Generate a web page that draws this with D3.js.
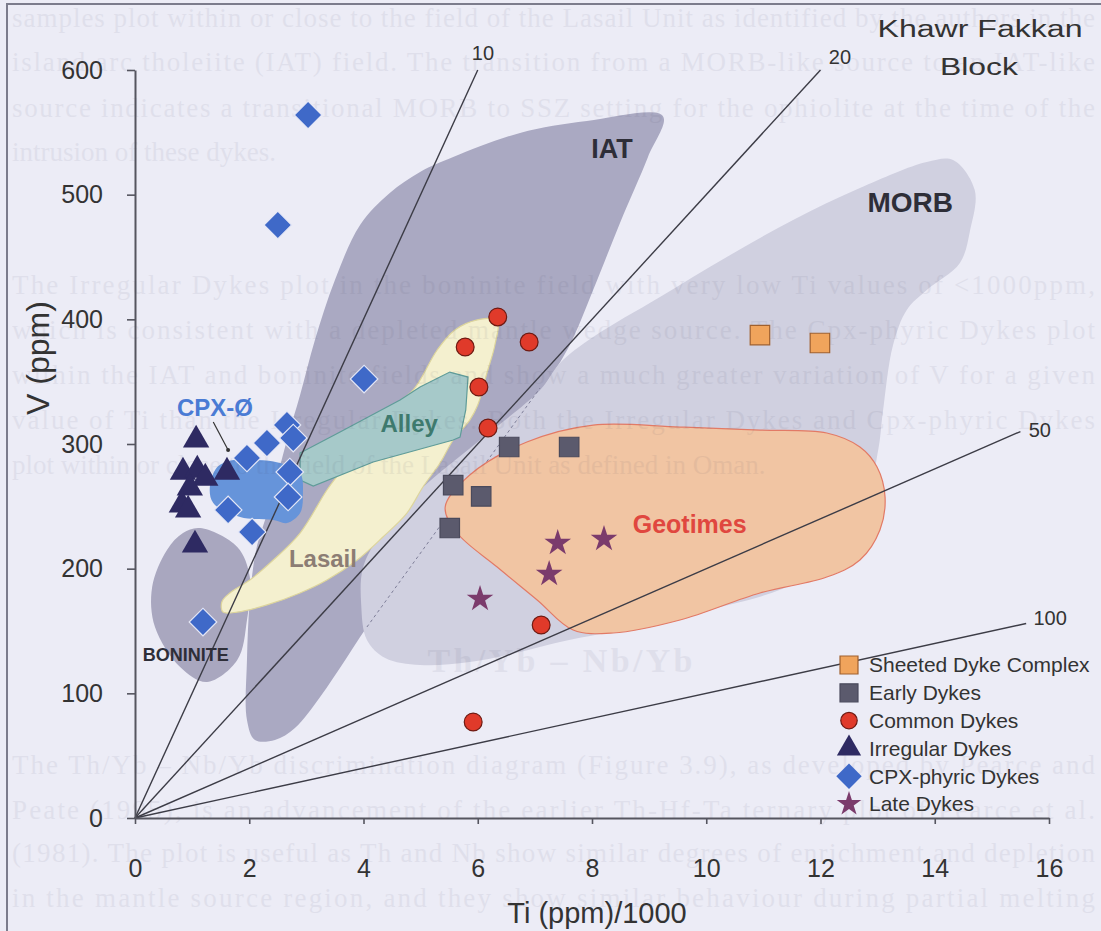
<!DOCTYPE html>
<html>
<head>
<meta charset="utf-8">
<script src="https://cdn.jsdelivr.net/npm/d3@7"></script>
<style>
  html, body { margin: 0; padding: 0; background: #ececf6; }
  svg { display: block; font-family: "Liberation Sans", Arial, sans-serif; }
</style>
</head>
<body>
<div id="chart"></div>
<script>
// Ti-V diagram (Shervais 1982), Khawr Fakkan Block dykes

const xTicks = [0, 2, 4, 6, 8, 10, 12, 14, 16];
const yTicks = [0, 100, 200, 300, 400, 500, 600];

// Ti/V reference ratios and the Ti/1000 value where each line stops
const ratios = [10, 20, 50, 100];
const ratioEnds = [6, 12, 15.5, 15.6];

// fields, as [Ti/1000, V ppm]
const iatField = [
  [4.46, 501.3], [4.99, 518.2], [5.57, 530.2], [6.74, 549.5], [7.91, 559.1], [9.24, 563.1],
  [8.98, 530.2], [8.49, 477.3], [8.02, 423.5], [7.61, 379.4], [7.18, 347.3], [4.06, 153.2],
  [3.68, 126.7], [3.24, 97.1], [2.80, 72.2], [2.45, 62.6], [2.10, 62.6], [1.96, 78.6],
  [1.96, 126.7], [2.01, 174.9], [2.12, 215.0], [2.36, 251.1], [2.66, 303.2], [2.89, 339.3],
  [3.15, 383.4], [3.50, 431.5], [3.94, 475.7]
];
const iatHiddenEdge = [[4.06, 153.2], [7.09, 344.9]];
const boniniteField = [
  [1.14, 232.6], [1.79, 217.4], [2.01, 193.3], [1.96, 158.8], [1.79, 126.7], [1.26, 109.1],
  [0.79, 121.1], [0.35, 153.2], [0.30, 185.3], [0.56, 215.0], [0.84, 228.6]
];
const morbField = [
  [14.32, 527.8], [14.70, 503.7], [14.62, 471.7], [14.44, 445.2], [13.86, 423.5], [13.51, 407.5],
  [13.27, 379.4], [13.09, 324.9], [13.01, 295.2], [12.69, 239.0], [11.64, 190.9], [9.89, 165.2],
  [8.49, 150.8], [7.44, 141.2], [6.74, 133.2], [5.86, 125.1], [4.99, 122.7], [4.38, 128.3],
  [4.06, 142.8], [3.96, 170.9], [3.99, 200.5], [4.29, 227.0], [4.99, 263.1], [6.04, 303.2],
  [7.09, 343.3], [7.44, 365.0], [8.02, 385.8], [9.19, 417.9], [10.36, 450.0], [11.52, 479.7],
  [12.69, 505.3], [13.86, 526.2]
];
const lasailField = [
  [1.52, 173.3], [1.66, 180.5], [2.01, 190.9], [2.42, 206.9], [2.89, 228.6], [3.36, 263.1],
  [3.68, 283.2], [4.03, 309.6], [4.46, 328.9], [4.87, 343.3], [5.29, 375.4], [5.60, 391.4],
  [5.99, 399.5], [6.34, 399.5], [6.30, 379.4], [6.16, 356.9], [6.00, 331.3], [5.86, 319.2],
  [5.57, 303.2], [5.34, 284.8], [5.04, 265.5], [4.76, 244.6], [4.34, 225.4], [3.89, 206.9],
  [3.36, 190.9], [2.89, 180.5], [2.31, 170.9], [1.79, 165.2], [1.54, 165.2]
];
const alleyField = [
  [2.89, 292.8], [3.59, 309.6], [4.64, 335.3], [4.99, 345.7], [5.51, 357.7], [5.83, 353.7],
  [5.79, 327.3], [5.69, 305.6], [5.57, 303.2], [4.17, 285.6], [3.12, 266.3], [2.89, 271.1]
];
const cpxField = [
  [1.44, 281.5], [1.31, 265.5], [1.37, 252.7], [1.84, 241.4], [2.42, 239.0], [2.66, 236.6],
  [2.89, 244.6], [2.94, 260.7], [2.89, 276.7], [2.54, 284.8], [2.14, 287.2], [1.72, 287.2]
];
const geotimesField = [
  [5.43, 249.5], [5.86, 275.1], [6.86, 301.6], [8.02, 315.2], [9.54, 313.6], [10.94, 311.2],
  [12.11, 308.8], [12.69, 297.6], [12.99, 281.5], [13.13, 257.5], [13.04, 231.0], [12.69, 206.9],
  [12.11, 193.3], [10.94, 180.5], [9.54, 158.8], [8.37, 148.4], [7.67, 150.8], [7.04, 174.9],
  [6.34, 201.3], [5.64, 228.6]
];

// samples, [Ti/1000, V ppm]
const sheetedDykes = [[10.94, 387.4], [11.99, 381.0]];
const earlyDykes = [[6.55, 297.6], [7.60, 297.6], [5.57, 267.0], [6.06, 258.0], [5.51, 232.6]];
const commonDykes = [
  [6.35, 401.9], [5.78, 377.8], [6.90, 381.8], [6.02, 345.7], [6.18, 312.8], [7.11, 154.8], [5.92, 77.0]
];
const irregularDykes = [
  [1.07, 303.2], [0.84, 277.5], [1.09, 279.1], [1.23, 272.7], [1.61, 277.5],
  [0.96, 264.7], [0.82, 251.1], [0.93, 247.1], [1.05, 219.0]
];
const cpxDykes = [
  [3.03, 563.9], [2.50, 475.7], [4.01, 352.1], [2.66, 315.2], [2.77, 304.8], [2.31, 300.8],
  [1.96, 288.8], [2.71, 277.5], [2.68, 257.5], [1.63, 247.1], [2.05, 229.4], [1.19, 157.2]
];
const lateDykes = [[7.40, 220.6], [8.21, 223.8], [7.25, 195.7], [6.04, 175.7]];

const legendNames = [
  "Sheeted Dyke Complex", "Early Dykes", "Common Dykes",
  "Irregular Dykes", "CPX-phyric  Dykes", "Late Dykes"
];

// thesis text showing through the scanned page
const pageLines = [
  "samples plot within or close to the field of the Lasail Unit as identified by the authors in the",
  "island arc tholeiite (IAT) field. The transition from a MORB-like source to an IAT-like",
  "source indicates a transitional MORB to SSZ setting for the ophiolite at the time of the",
  "intrusion of these dykes.",
  "The Irregular Dykes plot in the boninite field with very low Ti values of <1000ppm,",
  "which is consistent with a depleted mantle wedge source. The Cpx-phyric Dykes plot",
  "within the IAT and boninite fields and show a much greater variation of V for a given",
  "value of Ti than the Irregular Dykes. Both the Irregular Dykes and Cpx-phyric Dykes",
  "plot within or close to the field of the Lasail Unit as defined in Oman.",
  "The Th/Yb – Nb/Yb discrimination diagram (Figure 3.9), as developed by Pearce and",
  "Peate (1995), is an advancement of the earlier Th-Hf-Ta ternary plot of Pearce et al.",
  "(1981). The plot is useful as Th and Nb show similar degrees of enrichment and depletion",
  "in the mantle source region, and they show similar behaviour during partial melting"
];
const pageHeading = "Th/Yb – Nb/Yb";

const W = 1101, H = 931;

const svg = d3.select("#chart").append("svg").attr("width", W).attr("height", H);
svg.append("rect").attr("width", W).attr("height", H).attr("fill", "#ececf6");

const x = d3.scaleLinear().domain([0, 16]).range([135, 1049]);
const y = d3.scaleLinear().domain([0, 600]).range([818, 70]);

const smooth = d3.line().x((d) => x(d[0])).y((d) => y(d[1])).curve(d3.curveCatmullRomClosed.alpha(0.5));
const straight = d3.line().x((d) => x(d[0])).y((d) => y(d[1])).curve(d3.curveLinearClosed);

const fields = [
  { pts: iatField, path: smooth, fill: "#aaa9c2", stroke: "none" },
  { pts: boniniteField, path: smooth, fill: "#a9a7bf", stroke: "none" },
  { pts: morbField, path: smooth, fill: "#d0d0e0", stroke: "none" },
];
const fg = svg.append("g");
fg.selectAll("path.field")
  .data(fields)
  .join("path")
  .attr("class", "field")
  .attr("d", (d) => d.path(d.pts))
  .attr("fill", (d) => d.fill)
  .attr("stroke", (d) => d.stroke);

fg.append("path")
  .attr("d", d3.line().x((d) => x(d[0])).y((d) => y(d[1]))(iatHiddenEdge))
  .attr("stroke", "#7e7e98")
  .attr("stroke-width", 1)
  .attr("stroke-dasharray", "3,3")
  .attr("fill", "none");

const overlays = [
  { pts: lasailField, path: smooth, fill: "#f4f0cf", stroke: "#ddd59c" },
  { pts: alleyField, path: straight, fill: "#a6c9c9", stroke: "#5f9c99" },
  { pts: cpxField, path: smooth, fill: "#6694da", stroke: "none" },
  { pts: geotimesField, path: smooth, fill: "#f1c5a3", stroke: "#e27a66" },
];
fg.selectAll("path.overlay")
  .data(overlays)
  .join("path")
  .attr("class", "overlay")
  .attr("d", (d) => d.path(d.pts))
  .attr("fill", (d) => d.fill)
  .attr("stroke", (d) => d.stroke)
  .attr("stroke-width", 1.2);

// faint bleed-through text
const pageBaselines = [27, 71, 117, 161, 294, 339, 384, 429, 474, 774, 819, 862, 907];
const bleed = svg.append("g")
  .attr("font-family", "'Liberation Serif', 'DejaVu Serif', serif")
  .attr("font-size", 27)
  .attr("fill", "#3c3c5a")
  .attr("opacity", 0.065);
bleed.selectAll("text")
  .data(pageLines)
  .join("text")
  .attr("x", 12)
  .attr("y", (d, i) => pageBaselines[i])
  .each(function (d, i) {
    if (i !== 3 && i !== 8) {
      d3.select(this).attr("textLength", 1083).attr("lengthAdjust", "spacing");
    }
  })
  .text((d) => d);
bleed.append("text")
  .attr("x", 560)
  .attr("y", 672)
  .attr("text-anchor", "middle")
  .attr("font-weight", "bold")
  .attr("font-size", 34)
  .attr("textLength", 265)
  .text(pageHeading);

// page frame from the scan
svg.append("path")
  .attr("d", `M7,${H} V4 H${W}`)
  .attr("fill", "none")
  .attr("stroke", "#7c7c8c")
  .attr("stroke-width", 2);

// Ti/V ratio lines
const lg = svg.append("g");
lg.selectAll("line")
  .data(ratios)
  .join("line")
  .attr("x1", x(0))
  .attr("y1", y(0))
  .attr("x2", (d, i) => x(ratioEnds[i]))
  .attr("y2", (d, i) => y((ratioEnds[i] * 1000) / d))
  .attr("stroke", "#3c3c46")
  .attr("stroke-width", 1.4);

const ratioLabelAt = [[6.09, 613.5], [12.34, 610.4], [15.84, 311.2], [16.02, 160.4]];
lg.selectAll("text")
  .data(ratios)
  .join("text")
  .attr("x", (d, i) => x(ratioLabelAt[i][0]))
  .attr("y", (d, i) => y(ratioLabelAt[i][1]))
  .attr("dy", "0.35em")
  .attr("text-anchor", "middle")
  .attr("font-size", 20)
  .attr("fill", "#333")
  .text((d) => d);

// axes
const axisColor = "#55555f";
const yAxis = svg.append("g")
  .attr("transform", `translate(${x(0)},0)`)
  .call(d3.axisLeft(y).tickValues(yTicks).tickSize(8).tickSizeOuter(0).tickPadding(24));
const xAxis = svg.append("g")
  .attr("transform", `translate(0,${y(0)})`)
  .call(d3.axisBottom(x).tickValues(xTicks).tickSize(6).tickSizeOuter(0).tickPadding(35));
[xAxis, yAxis].forEach((a) => {
  a.select(".domain").attr("stroke", axisColor).attr("stroke-width", 2);
  a.selectAll(".tick line").attr("stroke", axisColor).attr("stroke-width", 1.6);
  a.selectAll(".tick text")
    .attr("font-size", 25)
    .attr("fill", "#333")
    .attr("font-family", "'Liberation Sans', Arial, sans-serif");
});

svg.append("text")
  .attr("x", (x(0) + x(16)) / 2 + 5)
  .attr("y", 923)
  .attr("text-anchor", "middle")
  .attr("font-size", 29)
  .attr("fill", "#333")
  .text("Ti (ppm)/1000");

svg.append("text")
  .attr("transform", `translate(49,358) rotate(-90)`)
  .attr("text-anchor", "middle")
  .attr("font-size", 32)
  .attr("fill", "#333")
  .text("V (ppm)");

// field labels
const fieldLabels = [
  { text: "IAT", at: [8.35, 536.6], size: 27, fill: "#2e2e38" },
  { text: "MORB", at: [13.57, 494.1], size: 28, fill: "#2e2e38" },
  { text: "Geotimes", at: [9.71, 235.8], size: 25, fill: "#e0473f" },
  { text: "Alley", at: [4.80, 316.0], size: 24, fill: "#3e7a6e" },
  { text: "Lasail", at: [3.29, 207.7], size: 24, fill: "#8c7d74" },
  { text: "CPX-Ø", at: [1.40, 328.9], size: 24, fill: "#4a7bd4" },
  { text: "BONINITE", at: [0.89, 130.7], size: 18, fill: "#2e2e38" },
];
svg.append("g")
  .selectAll("text")
  .data(fieldLabels)
  .join("text")
  .attr("x", (d) => x(d.at[0]))
  .attr("y", (d) => y(d.at[1]))
  .attr("dy", "0.35em")
  .attr("text-anchor", "middle")
  .attr("font-weight", "bold")
  .attr("font-size", (d) => d.size)
  .attr("fill", (d) => d.fill)
  .text((d) => d.text);

// pointer from the CPX label to its field
svg.append("line")
  .attr("x1", x(1.37)).attr("y1", y(317.6))
  .attr("x2", x(1.63)).attr("y2", y(295.2))
  .attr("stroke", "#333")
  .attr("stroke-width", 1.2);
svg.append("circle")
  .attr("cx", x(1.63)).attr("cy", y(295.2))
  .attr("r", 2)
  .attr("fill", "#333");

// sample series
const series = [
  { name: legendNames[0], pts: sheetedDykes, type: d3.symbolSquare, size: 380, rot: 0, fill: "#f0a45c", stroke: "#a0602e" },
  { name: legendNames[1], pts: earlyDykes, type: d3.symbolSquare, size: 380, rot: 0, fill: "#5b5a6d", stroke: "#4a4a5c" },
  { name: legendNames[2], pts: commonDykes, type: d3.symbolCircle, size: 250, rot: 0, fill: "#e03a2a", stroke: "#6e1a12" },
  { name: legendNames[4], pts: cpxDykes, type: d3.symbolSquare, size: 380, rot: 45, fill: "#3f69c8", stroke: "#e6e8f6" },
  { name: legendNames[3], pts: irregularDykes, type: d3.symbolTriangle, size: 300, rot: 0, fill: "#2e2a62", stroke: "none" },
  { name: legendNames[5], pts: lateDykes, type: d3.symbolStar, size: 220, rot: 0, fill: "#7b3b6c", stroke: "none" },
];

const mg = svg.append("g");
series.forEach((s) => {
  mg.append("g")
    .selectAll("path")
    .data(s.pts)
    .join("path")
    .attr("d", d3.symbol().type(s.type).size(s.size))
    .attr("transform", (d) => `translate(${x(d[0])},${y(d[1])}) rotate(${s.rot})`)
    .attr("fill", s.fill)
    .attr("stroke", s.stroke)
    .attr("stroke-width", 1.2);
});

// legend
const legendOrder = [0, 1, 2, 4, 3, 5];
const legend = svg.append("g").attr("transform", "translate(849,665)");
const rows = legend.selectAll("g")
  .data(legendOrder.map((i) => series[i]))
  .join("g")
  .attr("transform", (d, i) => `translate(0,${i * 27.8})`);
rows.append("path")
  .attr("d", (d) => d3.symbol().type(d.type).size(d.size * 0.85)())
  .attr("transform", (d) => `rotate(${d.rot})`)
  .attr("fill", (d) => d.fill)
  .attr("stroke", (d) => (d.rot ? "none" : d.stroke))
  .attr("stroke-width", 1.2);
rows.append("text")
  .attr("x", 20)
  .attr("dy", "0.35em")
  .attr("font-size", 21)
  .attr("fill", "#333")
  .text((d) => d.name);

// title
const title = svg.append("g").attr("fill", "#333").attr("text-anchor", "middle").attr("font-size", 23);
title.append("text").attr("x", 980).attr("y", 37).attr("textLength", 205).attr("lengthAdjust", "spacingAndGlyphs").text("Khawr Fakkan");
title.append("text").attr("x", 979).attr("y", 75).attr("textLength", 78).attr("lengthAdjust", "spacingAndGlyphs").text("Block");
</script>
</body>
</html>
